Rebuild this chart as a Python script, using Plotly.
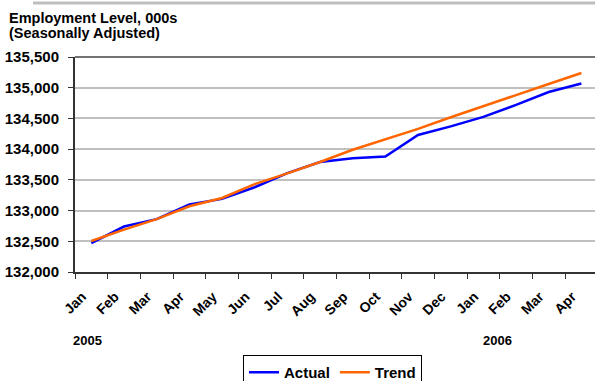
import plotly.graph_objects as go

# Monthly employment levels (thousands, seasonally adjusted), Jan 2005 - Apr 2006
months = ["Jan", "Feb", "Mar", "Apr", "May", "Jun", "Jul", "Aug",
          "Sep", "Oct", "Nov", "Dec", "Jan", "Feb", "Mar", "Apr"]
years = ["2005", "2006"]
actual = [132470, 132740, 132860, 133100, 133190, 133380, 133610, 133790,
          133850, 133880, 134230, 134370, 134525, 134720, 134930, 135068]
trend = [132505, 132690, 132860, 133070, 133205, 133430, 133605, 133790,
         133990, 134160, 134330, 134520, 134695, 134880, 135060, 135240]
y_ticks = [132000, 132500, 133000, 133500, 134000, 134500, 135000, 135500]

W, H = 595, 381
L, T, B = 75, 57, 109
plot_h = H - T - B
plot_w = W - L
cat_w = 32.67

FONT = "Liberation Sans, Arial, sans-serif"
x = list(range(len(months)))

fig = go.Figure()
fig.add_trace(go.Scatter(x=x, y=actual, name="Actual", mode="lines",
                         line=dict(color="#0000FF", width=2.5)))
fig.add_trace(go.Scatter(x=x, y=trend, name="Trend", mode="lines",
                         line=dict(color="#FF6600", width=2.5)))

def py(p):
    """Pixel row -> paper y."""
    return (H - B - p) / plot_h

def px(p):
    """Pixel column -> paper x."""
    return (p - L) / plot_w

fig.update_layout(
    width=W, height=H,
    margin=dict(l=L, r=0, t=T, b=B, pad=0, autoexpand=False),
    plot_bgcolor="white", paper_bgcolor="white",
    font=dict(family=FONT, color="black", size=14, weight="bold"),
    showlegend=True,
    legend=dict(orientation="h", x=px(243), xanchor="left",
                y=py(355), yanchor="top",
                bordercolor="black", borderwidth=1,
                font=dict(size=15, family=FONT, weight="bold"),
                itemwidth=30, tracegroupgap=0, bgcolor="white"),
    xaxis=dict(
        range=[-0.5, -0.5 + plot_w / cat_w],
        tickmode="array", tickvals=[i - 0.28 for i in x], ticktext=months,
        tickangle=-45, ticks="", showgrid=False, zeroline=False,
        showline=True, linecolor="#333333", linewidth=2,
        tickfont=dict(size=14, family=FONT, weight="bold"),
        ticklabelstandoff=9,
        minor=dict(tickmode="array",
                   tickvals=[i - 0.5 for i in range(len(months) + 1)],
                   ticks="outside", ticklen=5, tickwidth=1,
                   tickcolor="#333333", showgrid=False),
        fixedrange=True,
    ),
    yaxis=dict(
        range=[y_ticks[0], y_ticks[-1]],
        tickmode="array", tickvals=y_ticks,
        ticktext=[f"{v:,}" for v in y_ticks],
        ticks="outside", ticklen=5, tickcolor="#333333",
        showgrid=True, gridcolor="#C0C0C0", gridwidth=1.5,
        zeroline=False, showline=True, linecolor="#333333", linewidth=2,
        tickfont=dict(size=15, family=FONT, weight="bold"),
        ticklabelstandoff=6,
        fixedrange=True,
    ),
)

# top border of the plot area and the rule above the title
fig.add_shape(type="line", xref="paper", yref="paper", x0=0, x1=1, y0=1, y1=1,
              line=dict(color="#444444", width=1.5))
fig.add_shape(type="line", xref="paper", yref="paper",
              x0=px(33), x1=px(W), y0=py(3), y1=py(3),
              line=dict(color="#BEBEBE", width=3))

# chart heading
for text, row in [("Employment Level, 000s", 18), ("(Seasonally Adjusted)", 33)]:
    fig.add_annotation(text=text, xref="paper", yref="paper",
                       x=px(7), y=py(row), xanchor="left", yanchor="middle",
                       showarrow=False,
                       font=dict(size=14.5, family=FONT, weight="bold"))

# year labels under the month axis
for text, col in zip(years, [87, 497]):
    fig.add_annotation(text=text, xref="paper", yref="paper",
                       x=px(col), y=py(340), xanchor="center", yanchor="middle",
                       showarrow=False,
                       font=dict(size=13, family=FONT, weight="bold"))

fig.write_html("out.html")
